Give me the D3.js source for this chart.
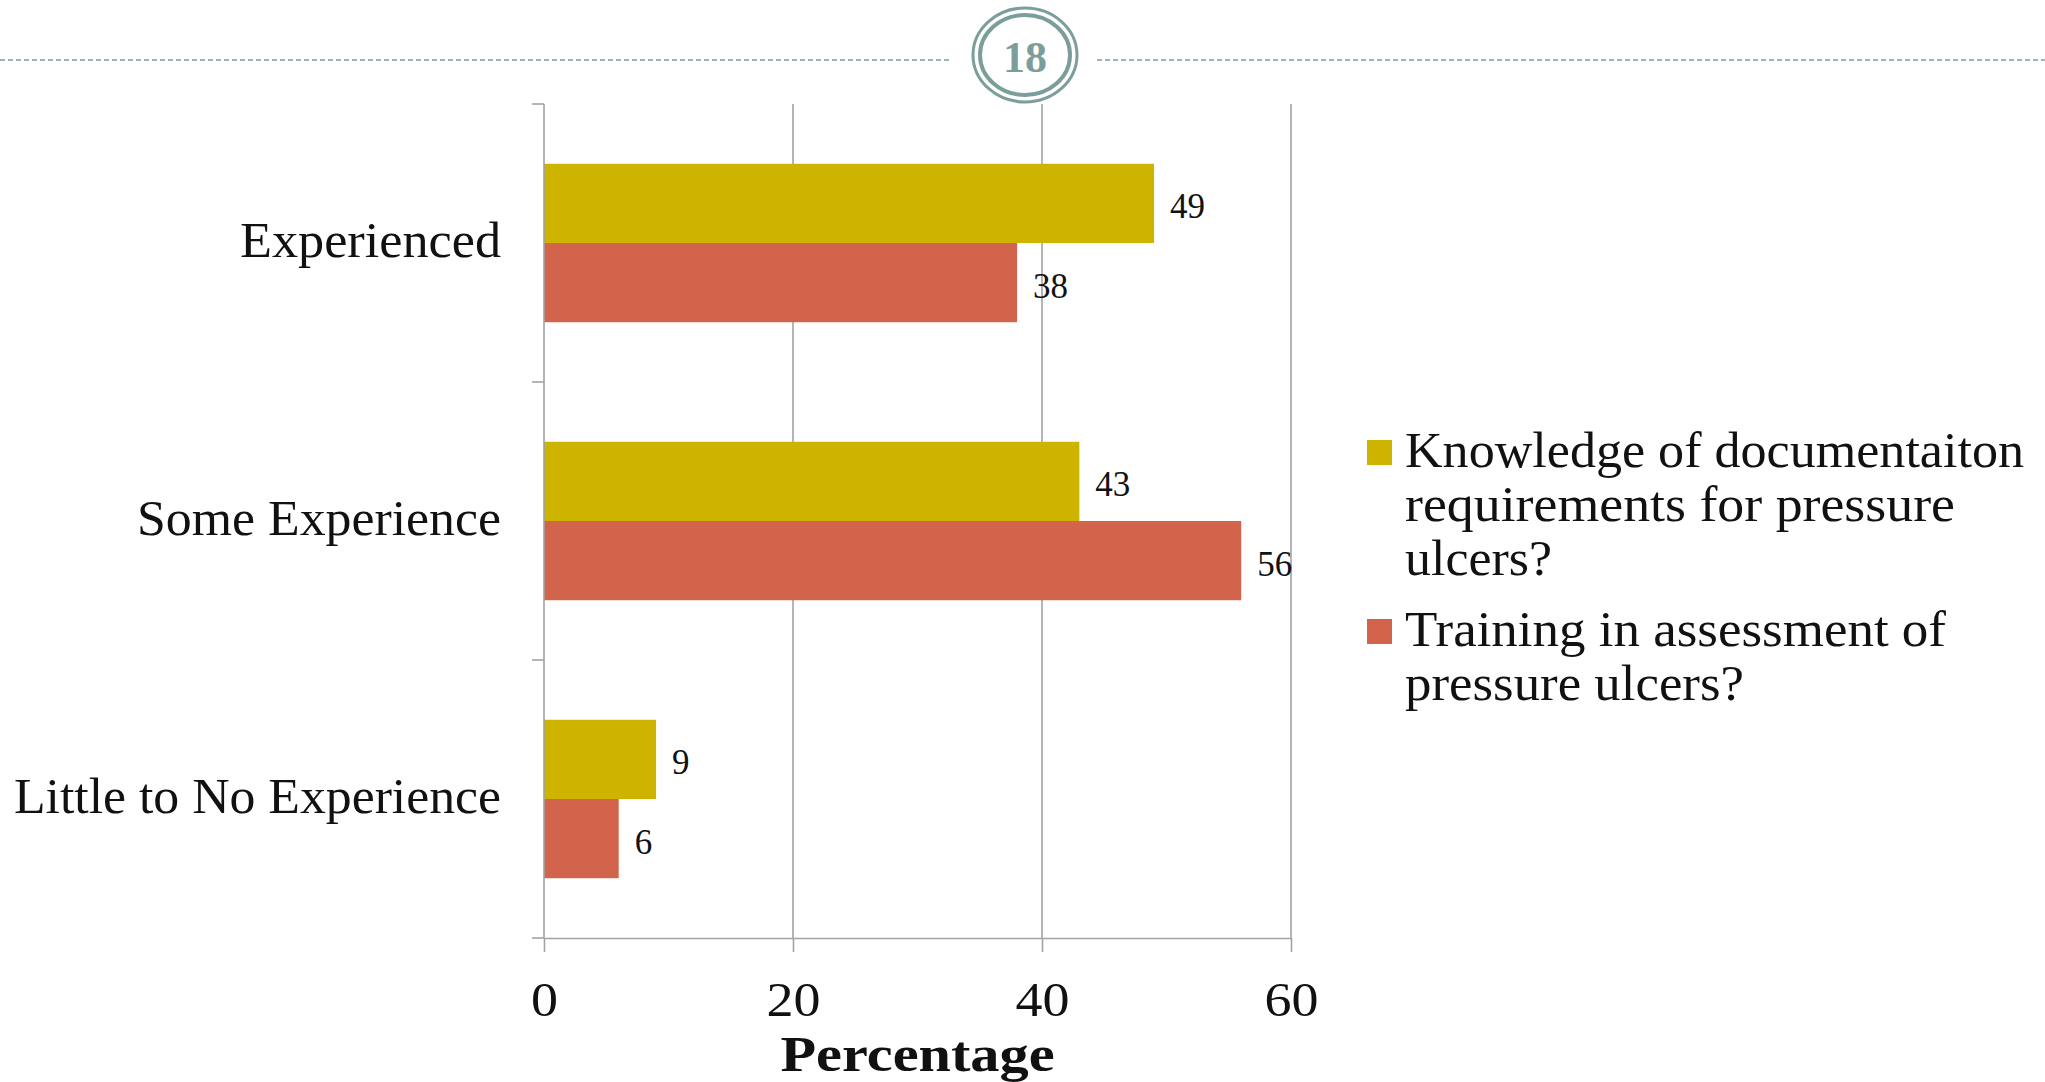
<!DOCTYPE html>
<html>
<head>
<meta charset="utf-8">
<script src="https://cdn.jsdelivr.net/npm/d3@7"></script>
<style>
  html, body { margin: 0; padding: 0; background: #ffffff; }
  svg { display: block; }
</style>
</head>
<body>
<svg id="chart" width="2045" height="1082"></svg>
<script>
// ---- data ----
const categories = ["Experienced", "Some Experience", "Little to No Experience"];
const seriesNames = [
  "Knowledge of documentaiton requirements for pressure ulcers?",
  "Training in assessment of pressure ulcers?"
];
const seriesLegendLines = [
  ["Knowledge of documentaiton", "requirements for pressure", "ulcers?"],
  ["Training in assessment of", "pressure ulcers?"]
];
const knowledgeValues = [49, 43, 9];
const trainingValues = [38, 56, 6];
const xTickValues = [0, 20, 40, 60];
const xTickLabels = ["0", "20", "40", "60"];
const xAxisTitle = "Percentage";
const slideNumber = "18";

// ---- styling ----
const seriesColors = ["#CCB400", "#D2644B"];
const gridColor = "#A3A3A3";
const teal = "#7C9E9B";
const serif = "'Liberation Serif', 'Times New Roman', serif";

const svg = d3.select("#chart");

// ---- header ----
const header = svg.append("g");
header.append("line").attr("x1", 0).attr("x2", 952).attr("y1", 60).attr("y2", 60)
  .attr("stroke", teal).attr("stroke-width", 1.6).attr("stroke-dasharray", "5,3");
header.append("line").attr("x1", 1097).attr("x2", 2045).attr("y1", 60).attr("y2", 60)
  .attr("stroke", teal).attr("stroke-width", 1.6).attr("stroke-dasharray", "5,3");
header.append("ellipse").attr("cx", 1025).attr("cy", 55).attr("rx", 52).attr("ry", 47)
  .attr("fill", "#fff").attr("stroke", teal).attr("stroke-width", 3);
header.append("ellipse").attr("cx", 1025).attr("cy", 55).attr("rx", 45).attr("ry", 40)
  .attr("fill", "none").attr("stroke", teal).attr("stroke-width", 4);
header.append("text").attr("x", 1025).attr("y", 72).attr("text-anchor", "middle")
  .attr("font-family", serif).attr("font-weight", "bold").attr("font-size", 44)
  .attr("fill", teal).text(slideNumber);

// ---- scales ----
const x = d3.scaleLinear().domain([0, 60]).range([544, 1291]);
const y = d3.scaleBand().domain(categories).range([104, 938])
  .paddingInner(0.43).paddingOuter(0.215);
const ySub = d3.scaleBand().domain(seriesNames).range([0, y.bandwidth()]);

const data = categories.map((c, i) => ({
  category: c,
  values: [
    { series: seriesNames[0], value: knowledgeValues[i], color: seriesColors[0] },
    { series: seriesNames[1], value: trainingValues[i], color: seriesColors[1] }
  ]
}));

// ---- gridlines ----
svg.append("g").selectAll("line")
  .data(xTickValues.filter(v => v > 0))
  .join("line")
  .attr("x1", d => x(d)).attr("x2", d => x(d))
  .attr("y1", y.range()[0]).attr("y2", y.range()[1])
  .attr("stroke", gridColor).attr("stroke-width", 1.6);

// ---- bars ----
const groups = svg.append("g").selectAll("g")
  .data(data).join("g")
  .attr("transform", d => `translate(0,${y(d.category)})`);

groups.selectAll("rect")
  .data(d => d.values).join("rect")
  .attr("x", x(0))
  .attr("y", d => ySub(d.series))
  .attr("width", d => x(d.value) - x(0))
  .attr("height", ySub.bandwidth())
  .attr("fill", d => d.color);

groups.selectAll("text")
  .data(d => d.values).join("text")
  .attr("x", d => x(d.value) + 16)
  .attr("y", d => ySub(d.series) + ySub.bandwidth() / 2 + 15)
  .attr("font-family", serif).attr("font-size", 35).attr("fill", "#111")
  .text(d => d.value);

// ---- x axis ----
const xAxis = d3.axisBottom(x).tickValues(xTickValues)
  .tickFormat((d, i) => xTickLabels[i]).tickSize(14).tickSizeOuter(0);
const gx = svg.append("g").attr("transform", `translate(0,${y.range()[1]})`).call(xAxis);
gx.select(".domain").attr("stroke", gridColor).attr("stroke-width", 1.6);
gx.selectAll(".tick line").attr("stroke", gridColor).attr("stroke-width", 1.6);
gx.selectAll(".tick text")
  .attr("y", 78).attr("dy", 0)
  .attr("font-family", serif).attr("font-size", 48).attr("fill", "#111")
  .attr("textLength", (d, i) => xTickLabels[i].length * 27)
  .attr("lengthAdjust", "spacingAndGlyphs");

svg.append("text").attr("x", (x(0) + x(60)) / 2).attr("y", 1071)
  .attr("text-anchor", "middle").attr("font-family", serif)
  .attr("font-weight", "bold").attr("font-size", 50).attr("fill", "#111")
  .attr("textLength", 274).attr("lengthAdjust", "spacingAndGlyphs")
  .text(xAxisTitle);

// ---- y axis ----
const boundaries = d3.range(categories.length + 1).map(i => y.range()[0] + i * y.step());
const gy = svg.append("g");
gy.append("line").attr("x1", x(0)).attr("x2", x(0))
  .attr("y1", y.range()[0]).attr("y2", y.range()[1])
  .attr("stroke", gridColor).attr("stroke-width", 1.6);
gy.selectAll("line.tick").data(boundaries).join("line").attr("class", "tick")
  .attr("x1", x(0) - 12).attr("x2", x(0))
  .attr("y1", d => d).attr("y2", d => d)
  .attr("stroke", gridColor).attr("stroke-width", 1.6);

const catWidths = [261, 364, 487];
gy.selectAll("text").data(categories).join("text")
  .attr("x", 501)
  .attr("y", d => y(d) - y.step() * y.paddingInner() / 2 + y.step() / 2 + 14)
  .attr("text-anchor", "end")
  .attr("font-family", serif).attr("font-size", 50).attr("fill", "#111")
  .attr("textLength", (d, i) => catWidths[i]).attr("lengthAdjust", "spacingAndGlyphs")
  .text(d => d);

// ---- legend ----
const legendWidths = [[619, 550, 147], [541, 339]];
const legendTop = [467, 646];
const legend = svg.append("g");
seriesNames.forEach((s, i) => {
  legend.append("rect").attr("x", 1367).attr("y", legendTop[i] - 27)
    .attr("width", 25).attr("height", 25).attr("fill", seriesColors[i]);
  seriesLegendLines[i].forEach((line, j) => {
    legend.append("text").attr("x", 1405).attr("y", legendTop[i] + j * 54)
      .attr("font-family", serif).attr("font-size", 50).attr("fill", "#111")
      .attr("textLength", legendWidths[i][j]).attr("lengthAdjust", "spacingAndGlyphs")
      .text(line);
  });
});
</script>
</body>
</html>
